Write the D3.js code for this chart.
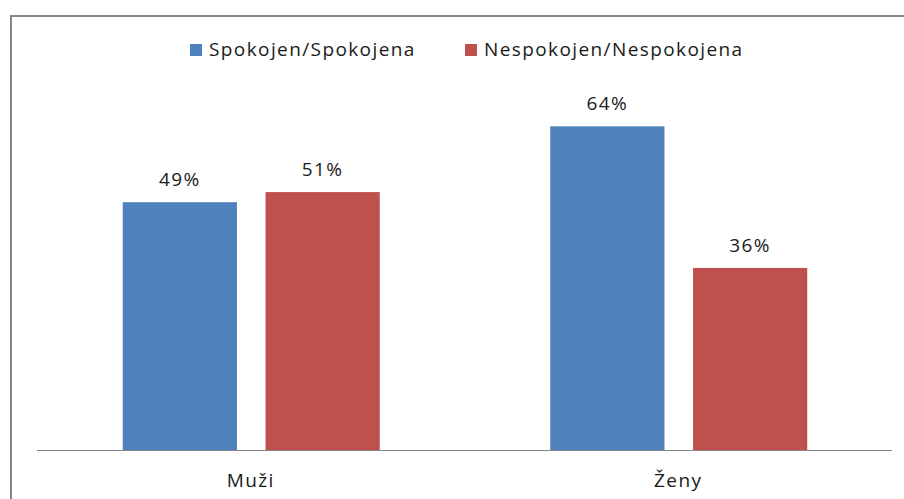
<!DOCTYPE html>
<html>
<head>
<meta charset="utf-8">
<script src="https://d3js.org/d3.v7.min.js"></script>
<style>
  body { margin: 0px; padding: 0px; background: #fff; }
  text { font-family: "Open Sans", "DejaVu Sans", sans-serif; fill: #1a1a1a; font-size: 19px; letter-spacing: 1.4px; }
</style>
</head>
<body>
<div id="svg_cont"></div>
<script>

var categories = ['Muži', 'Ženy'];
var series = ['Spokojen/Spokojena', 'Nespokojen/Nespokojena'];
var colors = ['#4f81bd', '#c0504d'];
var values = [
  [0.49, 0.51],   // Muži
  [0.64, 0.36]    // Ženy
];

var w = 904, h = 499;

var svg_main = d3.select('div#svg_cont')
  .append('svg')
  .attr('width', w)
  .attr('height', h);

// chart frame
svg_main.append('rect')
  .attr('x', 11).attr('y', 16)
  .attr('width', 900).attr('height', 500)
  .attr('fill', 'none')
  .attr('stroke', '#868686')
  .attr('stroke-width', 2);

var plot = { left: 37, right: 892, top: 96, bottom: 450 };

var x0 = d3.scaleBand()
  .domain(categories)
  .range([plot.left, plot.right]);

var x1 = d3.scaleBand()
  .domain(d3.range(series.length))
  .range([0, 257])
  .paddingInner(0.2);

var y = d3.scaleLinear()
  .domain([0, 0.7])
  .range([plot.bottom, plot.top]);

var groups = svg_main.selectAll('g.grp')
  .data(categories)
  .enter().append('g')
    .attr('class', 'grp')
    .attr('transform', (d) => 'translate(' + (x0(d) + x0.bandwidth()/2 - 128) + ',0)');

groups.selectAll('rect')
  .data((d, i) => values[i])
  .enter().append('rect')
    .attr('x', (d, j) => x1(j))
    .attr('y', (d) => y(d))
    .attr('width', x1.bandwidth())
    .attr('height', (d) => y(0) - y(d))
    .attr('fill', (d, j) => colors[j]);

groups.selectAll('text.val')
  .data((d, i) => values[i])
  .enter().append('text')
    .attr('class', 'val')
    .attr('x', (d, j) => x1(j) + x1.bandwidth()/2)
    .attr('y', (d) => y(d) - 16)
    .attr('text-anchor', 'middle')
    .text((d) => Math.round(d*100) + '%');

// baseline
svg_main.append('line')
  .attr('x1', plot.left).attr('x2', plot.right)
  .attr('y1', plot.bottom + 0.5).attr('y2', plot.bottom + 0.5)
  .attr('stroke', '#868686')
  .attr('stroke-width', 1);

// category labels
svg_main.selectAll('text.cat')
  .data(categories)
  .enter().append('text')
    .attr('class', 'cat')
    .attr('x', (d) => x0(d) + x0.bandwidth()/2)
    .attr('y', 487)
    .attr('text-anchor', 'middle')
    .text((d) => d);

// legend
var legend_x = [190, 465];
var legend = svg_main.selectAll('g.leg')
  .data(series)
  .enter().append('g')
    .attr('class', 'leg')
    .attr('transform', (d, i) => 'translate(' + legend_x[i] + ',44)');

legend.append('rect')
  .attr('width', 12).attr('height', 12)
  .attr('fill', (d, i) => colors[i]);

legend.append('text')
  .attr('x', 19).attr('y', 12)
  .text((d) => d);

</script>
</body>
</html>
